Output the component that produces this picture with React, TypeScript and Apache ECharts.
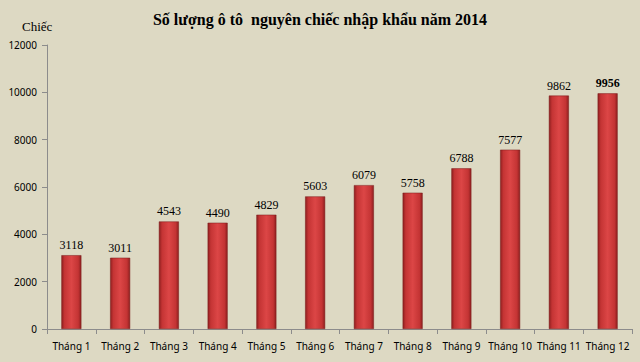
import React, { useEffect, useRef } from "react";
import * as echarts from "echarts";

const categories = ["Tháng 1", "Tháng 2", "Tháng 3", "Tháng 4", "Tháng 5", "Tháng 6", "Tháng 7", "Tháng 8", "Tháng 9", "Tháng 10", "Tháng 11", "Tháng 12"];
const values = [3118, 3011, 4543, 4490, 4829, 5603, 6079, 5758, 6788, 7577, 9862, 9956];
const title = "Số lượng ô tô  nguyên chiếc nhập khẩu năm 2014";
const unit = "Chiếc";

export default function App() {
  const ref = useRef<HTMLDivElement>(null);
  useEffect(() => {
    const chart = echarts.init(ref.current!, null, { renderer: "svg" });
    const barColor = new echarts.graphic.LinearGradient(0, 0, 1, 0, [
      { offset: 0, color: "#8e1f1f" },
      { offset: 0.15, color: "#c43434" },
      { offset: 0.5, color: "#dc4646" },
      { offset: 0.85, color: "#c43434" },
      { offset: 1, color: "#8e1f1f" },
    ]);
    chart.setOption({
      animation: false,
      backgroundColor: "#DDD9C3",
      title: {
        text: title,
        left: "center",
        top: 6,
        textStyle: { fontFamily: "Liberation Serif", fontWeight: "bold", fontSize: 16, color: "#000" },
      },
      graphic: [
        { type: "text", left: 22, top: 20, style: { text: unit, fontFamily: "Liberation Serif", fontSize: 13, fill: "#000" } },
      ],
      grid: { left: 47, right: 8, top: 45, bottom: 33 },
      xAxis: {
        type: "category",
        data: categories,
        axisLine: { lineStyle: { color: "#8c8c8c" } },
        axisTick: { show: true, alignWithLabel: false, length: 5, lineStyle: { color: "#8c8c8c" } },
        axisLabel: { interval: 0, color: "#000", fontFamily: "Noto Sans", fontSize: 10, margin: 12 },
      },
      yAxis: {
        type: "value",
        min: 0,
        max: 12000,
        interval: 2000,
        axisLine: { show: true, lineStyle: { color: "#8c8c8c" } },
        axisTick: { show: true, length: 5, lineStyle: { color: "#8c8c8c" } },
        splitLine: { show: false },
        axisLabel: { color: "#000", fontFamily: "Noto Sans", fontSize: 10, margin: 10, formatter: (v: number) => String(v) },
      },
      series: [
        {
          type: "bar",
          data: values.map((v, i) => ({
            value: v,
            label: i === values.length - 1 ? { fontWeight: "bold" } : undefined,
          })),
          barWidth: 20,
          itemStyle: { color: barColor, borderColor: "#7a1a1a", borderWidth: 0.5 },
          label: {
            show: true,
            position: "top",
            distance: 4,
            color: "#000",
            fontFamily: "Liberation Serif",
            fontSize: 12,
          },
        },
      ],
    });
    return () => chart.dispose();
  }, []);
  return <div ref={ref} style={{ width: 640, height: 362, position: "absolute", left: 0, top: 0 }} />;
}
